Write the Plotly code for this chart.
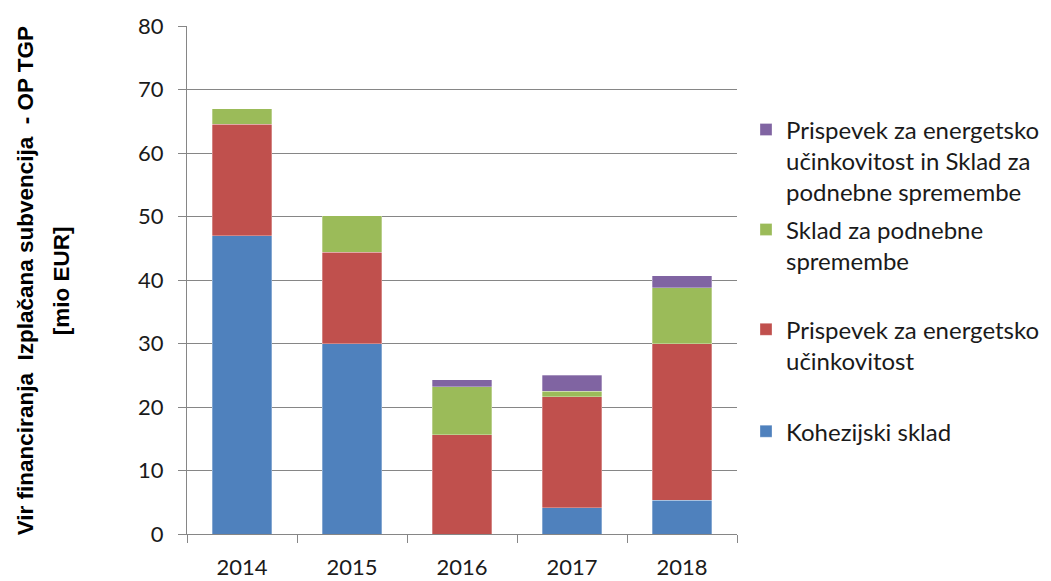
import plotly.graph_objects as go

years = ["2014", "2015", "2016", "2017", "2018"]
kohezijski = [47.0, 30.0, 0.0, 4.1, 5.3]
prispevek = [17.5, 14.4, 15.6, 17.5, 24.7]
sklad = [2.5, 5.7, 7.6, 0.9, 8.8]
prispevek_sklad = [0.0, 0.0, 1.1, 2.5, 1.9]

names = [
    "Kohezijski sklad",
    "Prispevek za energetsko<br>učinkovitost",
    "Sklad za podnebne<br>spremembe",
    "Prispevek za energetsko<br>učinkovitost in Sklad za<br>podnebne spremembe",
]
colors = ["#4F81BD", "#C0504D", "#9BBB59", "#8064A2"]
series = [kohezijski, prispevek, sklad, prispevek_sklad]
legends = ["legend4", "legend3", "legend2", "legend"]

# plot area geometry (pixels)
L, R, T, B = 187, 314, 25.5, 47
W, H = 1051, 581
PW = W - L - R
PH = H - T - B

def px_x(px):
    return (px - L) / PW

def px_y(py):
    return (H - B - py) / PH

fig = go.Figure()
for vals, name, col, lg in zip(series, names, colors, legends):
    fig.add_trace(go.Bar(
        x=years, y=vals, name=name, legend=lg, showlegend=True,
        marker=dict(color=col, line=dict(color="rgba(255,255,255,0.6)", width=0.5)),
    ))

legend_font = dict(family="Lato", size=24, color="#1a1a1a")
def leg(top_px):
    return dict(x=px_x(746), xanchor="left", y=px_y(top_px), yanchor="top",
                font=legend_font, valign="top", bgcolor="rgba(0,0,0,0)",
                itemclick=False, itemdoubleclick=False, visible=True)

fig.update_layout(
    width=W, height=H,
    margin=dict(l=L, r=R, t=T, b=B, autoexpand=False),
    plot_bgcolor="white", paper_bgcolor="white",
    barmode="stack", bargap=0.455,
    showlegend=True,
    font=dict(family="Lato", size=22, color="#1a1a1a"),
    legend=leg(107),
    legend2=leg(207),
    legend3=leg(307),
    legend4=leg(409),
    xaxis=dict(
        type="category", tickson="boundaries", ticks="outside", ticklen=8,
        tickcolor="#868686", showline=True, linecolor="#868686", linewidth=1,
        showgrid=False, tickfont=dict(family="Lato", size=22, color="#1a1a1a"),
        range=[-0.5, 4.5], ticklabelstandoff=14,
    ),
    yaxis=dict(
        range=[0, 80], tickvals=[0, 10, 20, 30, 40, 50, 60, 70, 80],
        ticks="outside", ticklen=8, tickcolor="#868686",
        showline=True, linecolor="#868686", linewidth=1,
        showgrid=True, gridcolor="#868686", gridwidth=1, zeroline=False,
        tickfont=dict(family="Lato", size=22, color="#1a1a1a"),
        ticklabelstandoff=10,
    ),
    annotations=[
        dict(text="<b>Vir financiranja  Izplačana subvencija  - OP TGP</b>",
             xref="paper", yref="paper", x=px_x(25), y=px_y(281),
             xanchor="center", yanchor="middle", textangle=-90, showarrow=False,
             font=dict(family="Liberation Sans", size=22.5, color="#000000")),
        dict(text="<b>[mio EUR]</b>",
             xref="paper", yref="paper", x=px_x(61), y=px_y(281),
             xanchor="center", yanchor="middle", textangle=-90, showarrow=False,
             font=dict(family="Liberation Sans", size=22.5, color="#000000")),
    ],
)

fig.write_html("out.html", config={"displayModeBar": False},
               post_script="document.body.style.margin='0';document.body.style.overflow='hidden';")
